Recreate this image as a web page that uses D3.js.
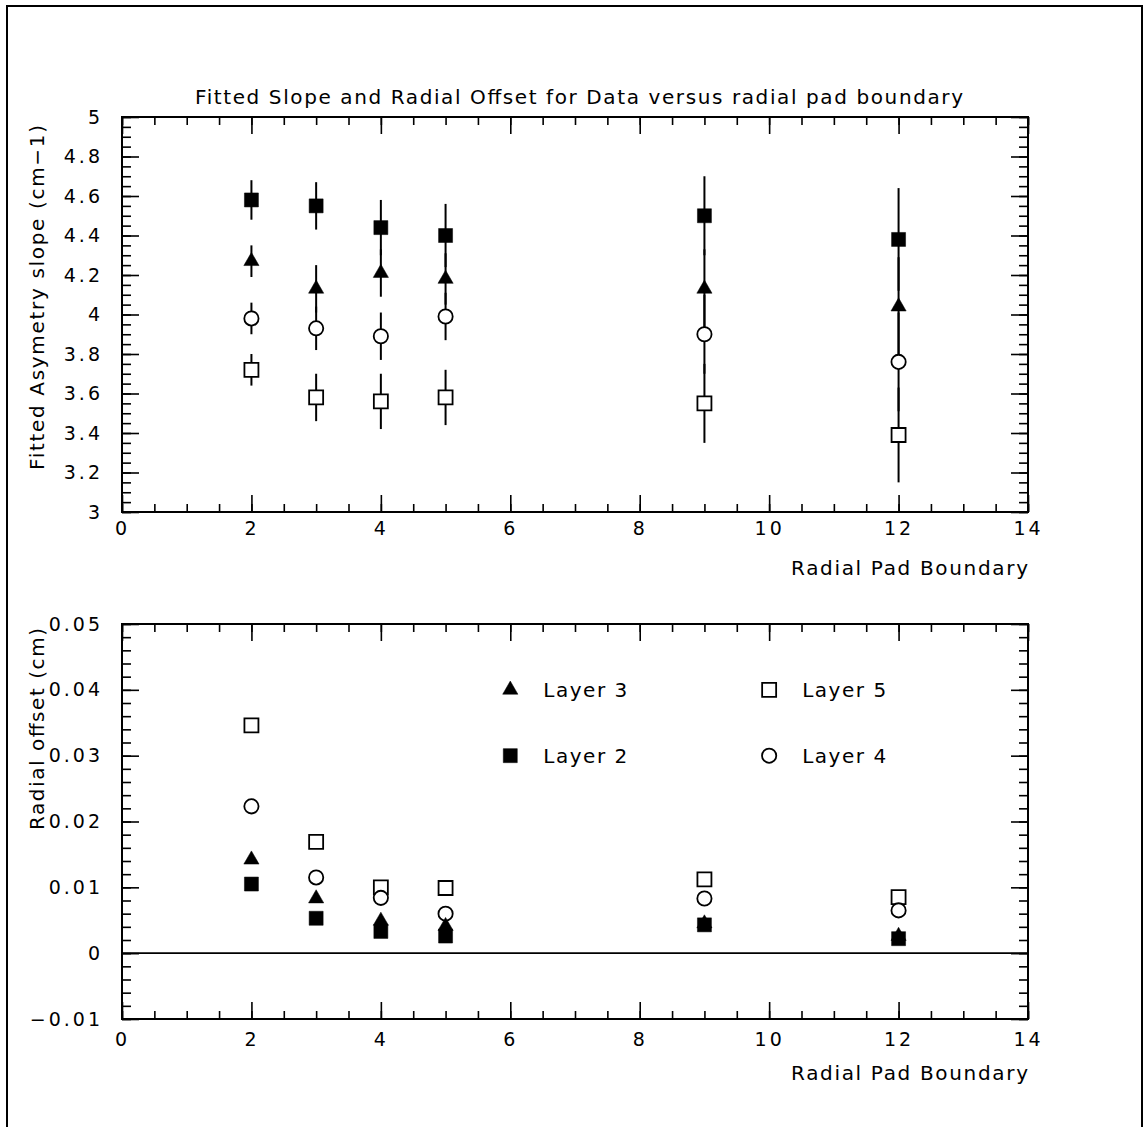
<!DOCTYPE html>
<html>
<head>
<meta charset="utf-8">
<script src="https://cdn.jsdelivr.net/npm/d3@7"></script>
<style>
  body { margin: 0; background: #fff; }
  text { font-family: "DejaVu Sans", sans-serif; fill: #000; }
</style>
</head>
<body>
<svg></svg>
<script>
// radial pad boundary (x) for every measurement
const boundaries = [2, 3, 4, 5, 9, 12];

// fitted asymmetry slope (cm-1) and its error, per layer
const slopeL2 = [4.58, 4.55, 4.44, 4.40, 4.50, 4.38];
const slopeErrL2 = [0.10, 0.12, 0.14, 0.16, 0.20, 0.26];
const slopeL3 = [4.27, 4.13, 4.21, 4.18, 4.13, 4.04];
const slopeErrL3 = [0.08, 0.12, 0.12, 0.13, 0.20, 0.25];
const slopeL4 = [3.98, 3.93, 3.89, 3.99, 3.90, 3.76];
const slopeErrL4 = [0.08, 0.11, 0.12, 0.12, 0.20, 0.25];
const slopeL5 = [3.72, 3.58, 3.56, 3.58, 3.55, 3.39];
const slopeErrL5 = [0.08, 0.12, 0.14, 0.14, 0.20, 0.24];

// radial offset (cm), per layer
const offsetL2 = [0.0105, 0.0053, 0.0033, 0.0026, 0.0043, 0.0022];
const offsetL3 = [0.0142, 0.0083, 0.0049, 0.0041, 0.0045, 0.0026];
const offsetL4 = [0.0223, 0.0115, 0.0084, 0.0060, 0.0083, 0.0065];
const offsetL5 = [0.0346, 0.0169, 0.0100, 0.0099, 0.0112, 0.0085];

// tick values
const xTicks = [0, 2, 4, 6, 8, 10, 12, 14];
const slopeTicks = [3, 3.2, 3.4, 3.6, 3.8, 4, 4.2, 4.4, 4.6, 4.8, 5];
const offsetTicks = [-0.01, 0, 0.01, 0.02, 0.03, 0.04, 0.05];

const titleText = 'Fitted Slope and Radial Offset for Data versus radial pad boundary';

const width = 1145;
const height = 1127;

const svg = d3.select('svg')
  .attr('width', width)
  .attr('height', height);

// outer page frame (runs off the bottom of the picture)
svg.append('rect')
  .attr('x', 7).attr('y', 6)
  .attr('width', 1135).attr('height', 1160)
  .attr('fill', 'none').attr('stroke', '#000').attr('stroke-width', 2);

const layers = [
  { name: 'Layer 5', type: d3.symbolSquare, size: 196, filled: false, slope: slopeL5, err: slopeErrL5, offset: offsetL5 },
  { name: 'Layer 4', type: d3.symbolCircle, size: 160, filled: false, slope: slopeL4, err: slopeErrL4, offset: offsetL4 },
  { name: 'Layer 3', type: d3.symbolTriangle, size: 100, filled: true, slope: slopeL3, err: slopeErrL3, offset: offsetL3 },
  { name: 'Layer 2', type: d3.symbolSquare, size: 196, filled: true, slope: slopeL2, err: slopeErrL2, offset: offsetL2 }
];

const left = 122, right = 1028;
const x = d3.scaleLinear().domain([0, 14]).range([left, right]);

function marker(sel, layer) {
  sel.append('path')
    .attr('d', d3.symbol().type(layer.type).size(layer.size))
    .attr('fill', layer.filled ? '#000' : '#fff')
    .attr('stroke', '#000')
    .attr('stroke-width', layer.filled ? 0.5 : 1.8);
}

function frameAxes(g, y, top, bottom, yMajor, yMinor, fmt, xPad) {
  const xMinor = d3.range(0, 14.01, 0.5);
  const styleAxis = a => {
    a.select('.domain').remove();
    a.selectAll('line').attr('stroke-width', 1.6);
    a.selectAll('text').style('font-size', '19px').style('letter-spacing', '3px');
  };
  // bottom
  g.append('g').attr('transform', `translate(0,${bottom})`)
    .call(d3.axisBottom(x).tickValues(xMinor).tickSize(-8).tickFormat(''))
    .call(styleAxis);
  g.append('g').attr('transform', `translate(0,${bottom})`)
    .call(d3.axisBottom(x).tickValues(xTicks).tickSize(-17).tickPadding(xPad).tickFormat(d3.format('d')))
    .call(styleAxis);
  // top
  g.append('g').attr('transform', `translate(0,${top})`)
    .call(d3.axisTop(x).tickValues(xMinor).tickSize(-8).tickFormat(''))
    .call(styleAxis);
  g.append('g').attr('transform', `translate(0,${top})`)
    .call(d3.axisTop(x).tickValues(xTicks).tickSize(-17).tickFormat(''))
    .call(styleAxis);
  // left
  g.append('g').attr('transform', `translate(${left},0)`)
    .call(d3.axisLeft(y).tickValues(yMinor).tickSize(-9).tickFormat(''))
    .call(styleAxis);
  g.append('g').attr('transform', `translate(${left},0)`)
    .call(d3.axisLeft(y).tickValues(yMajor).tickSize(-17).tickPadding(19).tickFormat(fmt))
    .call(styleAxis);
  // right
  g.append('g').attr('transform', `translate(${right},0)`)
    .call(d3.axisRight(y).tickValues(yMinor).tickSize(-9).tickFormat(''))
    .call(styleAxis);
  g.append('g').attr('transform', `translate(${right},0)`)
    .call(d3.axisRight(y).tickValues(yMajor).tickSize(-17).tickFormat(''))
    .call(styleAxis);
  // frame
  g.append('rect')
    .attr('x', left).attr('y', top)
    .attr('width', right - left).attr('height', bottom - top)
    .attr('fill', 'none').attr('stroke', '#000').attr('stroke-width', 2);
}

// ---------- top panel: fitted slope ----------
const top1 = 117, bottom1 = 512;
const ySlope = d3.scaleLinear().domain([3, 5]).range([bottom1, top1]);
const g1 = svg.append('g');

const slopeMinor = d3.range(3, 5.001, 0.05).map(v => +v.toFixed(2));
frameAxes(g1, ySlope, top1, bottom1, slopeTicks, slopeMinor, d => d3.format('~g')(d), 10);

g1.append('text')
  .attr('x', 579).attr('y', 104)
  .attr('text-anchor', 'middle')
  .attr('textLength', 768).attr('lengthAdjust', 'spacing')
  .style('font-size', '20px')
  .text(titleText);

g1.append('text')
  .attr('x', right).attr('y', 575)
  .attr('text-anchor', 'end')
  .attr('textLength', 237).attr('lengthAdjust', 'spacing')
  .style('font-size', '20px')
  .text('Radial Pad Boundary');

g1.append('text')
  .attr('transform', `translate(44,${(125 + 470) / 2}) rotate(-90)`)
  .attr('text-anchor', 'middle')
  .attr('textLength', 345).attr('lengthAdjust', 'spacing')
  .style('font-size', '20px')
  .text('Fitted Asymetry slope (cm\u22121)');

// error bars first, markers on top
layers.forEach(layer => {
  g1.append('g').selectAll('line')
    .data(boundaries)
    .join('line')
    .attr('x1', d => x(d)).attr('x2', d => x(d))
    .attr('y1', (d, i) => ySlope(layer.slope[i] - layer.err[i]))
    .attr('y2', (d, i) => ySlope(layer.slope[i] + layer.err[i]))
    .attr('stroke', '#000').attr('stroke-width', 2);
});
layers.forEach(layer => {
  g1.append('g').selectAll('g')
    .data(boundaries)
    .join('g')
    .attr('transform', (d, i) => `translate(${x(d)},${ySlope(layer.slope[i])})`)
    .each(function () { marker(d3.select(this), layer); });
});

// ---------- bottom panel: radial offset ----------
const top2 = 624, bottom2 = 1019;
const yOff = d3.scaleLinear().domain([-0.01, 0.05]).range([bottom2, top2]);
const g2 = svg.append('g');

const offMinor = d3.range(-0.01, 0.05001, 0.002).map(v => +v.toFixed(3));
frameAxes(g2, yOff, top2, bottom2, offsetTicks, offMinor, d => d3.format('~g')(d), 14);

g2.append('line')
  .attr('x1', x(0)).attr('x2', x(14))
  .attr('y1', yOff(0)).attr('y2', yOff(0))
  .attr('stroke', '#000').attr('stroke-width', 1.6);

g2.append('text')
  .attr('x', right).attr('y', 1080)
  .attr('text-anchor', 'end')
  .attr('textLength', 237).attr('lengthAdjust', 'spacing')
  .style('font-size', '20px')
  .text('Radial Pad Boundary');

g2.append('text')
  .attr('transform', `translate(44,${(628 + 830) / 2}) rotate(-90)`)
  .attr('text-anchor', 'middle')
  .attr('textLength', 202).attr('lengthAdjust', 'spacing')
  .style('font-size', '20px')
  .text('Radial offset (cm)');

layers.forEach(layer => {
  g2.append('g').selectAll('g')
    .data(boundaries)
    .join('g')
    .attr('transform', (d, i) => `translate(${x(d)},${yOff(layer.offset[i])})`)
    .each(function () { marker(d3.select(this), layer); });
});

// legend, laid out in data units of the lower panel
const legendSpots = { 'Layer 3': [6, 0.04], 'Layer 2': [6, 0.03], 'Layer 5': [10, 0.04], 'Layer 4': [10, 0.03] };
layers.forEach(layer => {
  const [lx, ly] = legendSpots[layer.name];
  const item = g2.append('g').attr('transform', `translate(${x(lx)},${yOff(ly)})`);
  marker(item, layer);
  item.append('text')
    .attr('x', 33).attr('y', 7)
    .attr('textLength', 84).attr('lengthAdjust', 'spacing')
    .style('font-size', '20px')
    .text(layer.name);
});
</script>
</body>
</html>
